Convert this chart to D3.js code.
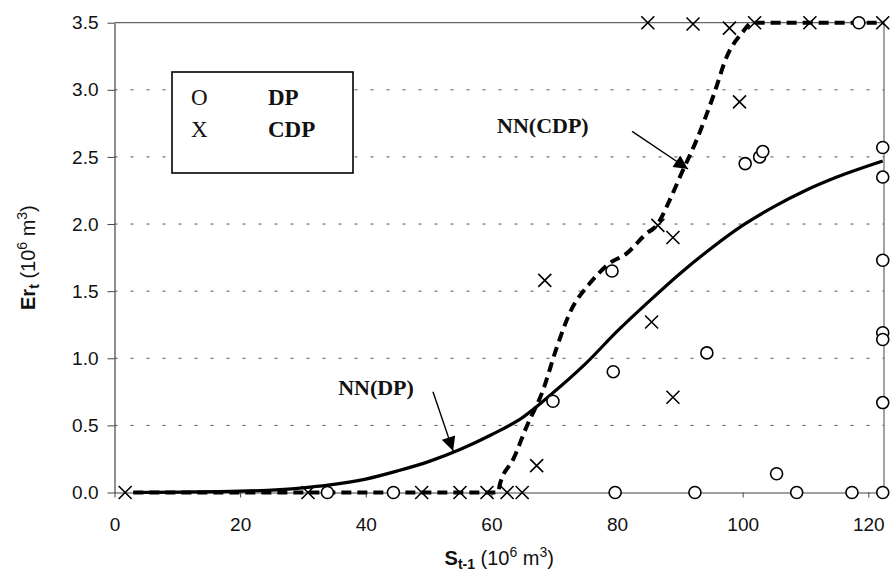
<!DOCTYPE html>
<meta charset="utf-8">

<!-- Load d3.js -->
<script src="https://d3js.org/d3.v7.min.js"></script>

<style>
body { margin: 0; background: white; }
.tick text { font-family: "Liberation Sans", Arial, sans-serif; font-size: 19px; fill: #111; }
.axis-title { font-family: "Liberation Sans", Arial, sans-serif; font-size: 20px; fill: #111; }
.serif { font-family: "Liberation Serif", "Times New Roman", serif; fill: #111; }
</style>

<div id="my_dataviz"></div>

<script>

// axis ticks
var xTicks = [0, 20, 40, 60, 80, 100, 120];
var yTicks = [0, 0.5, 1.0, 1.5, 2.0, 2.5, 3.0, 3.5];

// observed DP points (S t-1, Er t)
var dpS  = [33.9, 44.4, 69.8, 79.2, 79.4, 94.3, 105.4, 79.7, 92.4, 108.6, 117.4, 122.3,
            122.3, 122.3, 122.3, 122.3, 122.3, 122.3, 100.4, 102.7, 103.2, 118.5];
var dpEr = [0, 0, 0.68, 1.65, 0.90, 1.04, 0.14, 0, 0, 0, 0, 0,
            1.73, 1.19, 1.14, 0.67, 2.57, 2.35, 2.45, 2.50, 2.54, 3.5];

// observed CDP points
var cdpS  = [1.7, 30.8, 48.9, 55.0, 59.3, 62.5, 64.9, 67.2, 68.5, 86.5, 88.9, 85.5,
             88.9, 99.5, 84.9, 92.1, 97.9, 101.9, 110.7, 122.3];
var cdpEr = [0, 0, 0, 0, 0, 0, 0, 0.20, 1.58, 1.99, 1.90, 1.27,
             0.71, 2.91, 3.5, 3.49, 3.46, 3.5, 3.5, 3.5];

// neural network fits
var nnDpS  = [3, 20, 30, 34, 40, 45, 50, 55, 60, 65, 70, 75, 80, 85, 90, 95,
              100, 105, 110, 115, 122.3];
var nnDpEr = [0, 0.01, 0.035, 0.055, 0.1, 0.16, 0.23, 0.32, 0.43, 0.56, 0.75, 0.96, 1.2,
              1.42, 1.63, 1.82, 1.99, 2.13, 2.25, 2.35, 2.47];

var nnCdpS  = [3, 61, 61.4, 63.5, 65.6, 68.2, 70.4, 72.5, 75.7, 78.9, 81.5, 84.7, 86.3,
               88.4, 90, 92.7, 95.3, 97.5, 100, 101.5, 122.5];
var nnCdpEr = [0, 0, 0.07, 0.25, 0.49, 0.76, 1.08, 1.34, 1.56, 1.71, 1.78, 1.93, 1.99,
               2.18, 2.35, 2.63, 2.95, 3.25, 3.43, 3.5, 3.5];

var W = 890, H = 572;
var margin = {top: 22.7, right: 6, bottom: 79.5, left: 114.5};

var svg = d3.select("#my_dataviz")
  .append("svg")
    .attr("width", W)
    .attr("height", H);

var x = d3.scaleLinear()
  .domain([0, 122.5])
  .range([margin.left, W - margin.right]);

var y = d3.scaleLinear()
  .domain([0, 3.5])
  .range([H - margin.bottom, margin.top]);

// dashed gridlines
svg.append("g")
  .selectAll("line")
  .data(yTicks.filter(function(d){ return d > 0 && d < 3.5; }))
  .enter()
  .append("line")
    .attr("x1", x(0)).attr("x2", x(122.5))
    .attr("y1", function(d){ return y(d); })
    .attr("y2", function(d){ return y(d); })
    .style("stroke", "#555")
    .style("stroke-width", 1)
    .style("stroke-dasharray", "3,13");

// top + right frame
svg.append("path")
  .attr("d", "M" + x(0) + "," + y(3.5) + "H" + x(122.5) + "V" + y(0))
  .style("fill", "none")
  .style("stroke", "#666")
  .style("stroke-width", 1.2);

// axes
var xAxis = svg.append("g")
  .attr("transform", "translate(0," + y(0) + ")")
  .call(d3.axisBottom(x).tickValues(xTicks).tickSize(5).tickPadding(20).tickSizeOuter(0));
var yAxis = svg.append("g")
  .attr("transform", "translate(" + x(0) + ",0)")
  .call(d3.axisLeft(y).tickValues(yTicks).tickFormat(d3.format(".1f")).tickSize(7).tickPadding(9).tickSizeOuter(0));
[xAxis, yAxis].forEach(function(a){
  a.select(".domain").style("stroke", "#444").style("stroke-width", 1.2);
  a.selectAll(".tick line").style("stroke", "#444");
});

// fitted curves
var line = d3.line()
  .x(function(d){ return x(d[0]); })
  .y(function(d){ return y(d[1]); })
  .curve(d3.curveMonotoneX);

svg.append("path")
  .datum(d3.zip(nnDpS, nnDpEr))
  .attr("d", line)
  .style("fill", "none")
  .style("stroke", "black")
  .style("stroke-width", 3.2);

svg.append("path")
  .datum(d3.zip(nnCdpS, nnCdpEr))
  .attr("d", line)
  .style("fill", "none")
  .style("stroke", "black")
  .style("stroke-width", 4)
  .style("stroke-dasharray", "10,6");

// legend box
svg.append("rect")
  .attr("x", 172).attr("y", 72)
  .attr("width", 181).attr("height", 101)
  .style("fill", "white")
  .style("stroke", "black")
  .style("stroke-width", 1.6);

var legendRows = [["O", "DP", 105], ["X", "CDP", 137]];
legendRows.forEach(function(r){
  svg.append("text").attr("class", "serif")
    .attr("x", 191).attr("y", r[2])
    .style("font-size", "23px")
    .text(r[0]);
  svg.append("text").attr("class", "serif")
    .attr("x", 268).attr("y", r[2])
    .style("font-size", "23px")
    .style("font-weight", "bold")
    .text(r[1]);
});

// CDP markers (X)
var s = 6.5;
svg.append("g")
  .selectAll("path")
  .data(d3.zip(cdpS, cdpEr))
  .enter()
  .append("path")
    .attr("d", function(d){
      var cx = x(d[0]), cy = y(d[1]);
      return "M" + (cx - s) + "," + (cy - s) + "L" + (cx + s) + "," + (cy + s) +
             "M" + (cx - s) + "," + (cy + s) + "L" + (cx + s) + "," + (cy - s);
    })
    .style("stroke", "black")
    .style("stroke-width", 1.6)
    .style("fill", "none");

// DP markers (O)
svg.append("g")
  .selectAll("circle")
  .data(d3.zip(dpS, dpEr))
  .enter()
  .append("circle")
    .attr("cx", function(d){ return x(d[0]); })
    .attr("cy", function(d){ return y(d[1]); })
    .attr("r", 6)
    .style("fill", "white")
    .style("stroke", "black")
    .style("stroke-width", 1.6);

// annotations with arrows
svg.append("defs").append("marker")
  .attr("id", "head")
  .attr("viewBox", "0 0 10 10")
  .attr("refX", 10).attr("refY", 5)
  .attr("markerWidth", 16).attr("markerHeight", 14)
  .attr("markerUnits", "userSpaceOnUse")
  .attr("orient", "auto")
  .append("path")
    .attr("d", "M0,0L10,5L0,10Z")
    .style("fill", "black");

var notes = [
  {label: "NN(CDP)", lx: 60.9, ly: 2.678, x1: 82.4, y1: 2.69, x2: 91.3, y2: 2.41},
  {label: "NN(DP)",  lx: 35.6, ly: 0.726, x1: 50.7, y1: 0.75, x2: 53.9, y2: 0.31}
];
notes.forEach(function(n){
  svg.append("text").attr("class", "serif")
    .attr("x", x(n.lx)).attr("y", y(n.ly))
    .style("font-size", "22px")
    .style("font-weight", "bold")
    .text(n.label);
  svg.append("line")
    .attr("x1", x(n.x1)).attr("y1", y(n.y1))
    .attr("x2", x(n.x2)).attr("y2", y(n.y2))
    .style("stroke", "black")
    .style("stroke-width", 1.4)
    .attr("marker-end", "url(#head)");
});

// axis titles
var xt = svg.append("text").attr("class", "axis-title")
  .attr("x", (x(0) + x(122.5)) / 2).attr("y", 565)
  .attr("text-anchor", "middle");
xt.append("tspan").style("font-weight", "bold").text("S");
xt.append("tspan").style("font-weight", "bold").style("font-size", "14px").attr("dy", 4).text("t-1");
xt.append("tspan").attr("dy", -4).text(" (10");
xt.append("tspan").style("font-size", "14px").attr("dy", -8).text("6");
xt.append("tspan").attr("dy", 8).text(" m");
xt.append("tspan").style("font-size", "14px").attr("dy", -8).text("3");
xt.append("tspan").attr("dy", 8).text(")");

var yt = svg.append("text").attr("class", "axis-title")
  .attr("transform", "translate(35," + ((y(0) + y(3.5)) / 2) + ") rotate(-90)")
  .attr("text-anchor", "middle");
yt.append("tspan").style("font-weight", "bold").text("Er");
yt.append("tspan").style("font-weight", "bold").style("font-size", "14px").attr("dy", 4).text("t");
yt.append("tspan").attr("dy", -4).text(" (10");
yt.append("tspan").style("font-size", "14px").attr("dy", -8).text("6");
yt.append("tspan").attr("dy", 8).text(" m");
yt.append("tspan").style("font-size", "14px").attr("dy", -8).text("3");
yt.append("tspan").attr("dy", 8).text(")");

</script>
